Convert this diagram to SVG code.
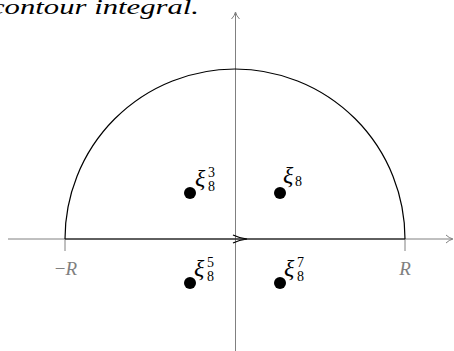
<svg xmlns="http://www.w3.org/2000/svg" width="454" height="351" viewBox="0 0 454 351">
<defs>
<style>
.axis{stroke:#808080;stroke-width:1;fill:none}
.contour{stroke:#000;stroke-width:1.2;fill:none}
.gl{fill:#808080;font-style:italic;font-size:19px}
.xi{font-style:italic;font-size:24px;fill:#000}
.idx{font-style:normal;font-size:14px}
.cap{font-style:italic;font-size:21px;fill:#000}
</style>
</defs>
<rect width="454" height="351" fill="#fff"/>
<text class="cap" font-family="Liberation Serif, serif" x="-9" y="14" textLength="208" lengthAdjust="spacingAndGlyphs">contour integral.</text>
<g id="connectors">
<line class="axis" x1="8" y1="239" x2="452" y2="239"/>
<path class="axis" d="M446,235 Q449,238 453,239 Q449,240 446,243"/>
<line class="axis" x1="235.5" y1="13" x2="235.5" y2="351"/>
<path class="axis" d="M231.5,19 Q234.5,16 235.5,12 Q236.5,16 239.5,19"/>
<line class="axis" x1="65" y1="239" x2="65" y2="251"/>
<line class="axis" x1="405" y1="239" x2="405" y2="251"/>
<path class="contour" d="M65,239 A170,170 0 0 1 405,239"/>
<line class="contour" x1="65" y1="239" x2="405" y2="239"/>
<path d="M233,235 Q239,238 247,239 Q239,240 233,243" stroke="#000" stroke-width="1.2" fill="none"/>
</g>
<g id="minusR"><text class="gl" font-family="Liberation Serif, serif" x="66" y="275" text-anchor="middle"><tspan font-style="normal">−</tspan>R</text></g>
<g id="R"><text class="gl" font-family="Liberation Serif, serif" x="405" y="275" text-anchor="middle">R</text></g>
<g id="xi3">
<circle cx="190" cy="193" r="6" fill="#000"/>
<text class="xi" font-family="Liberation Serif, serif" x="195" y="186">ξ<tspan class="idx" x="208" y="191">8</tspan><tspan class="idx" x="208" y="177">3</tspan></text>
</g>
<g id="xi1">
<circle cx="280" cy="193" r="6" fill="#000"/>
<text class="xi" font-family="Liberation Serif, serif" x="283" y="183">ξ<tspan class="idx" x="295" y="186">8</tspan></text>
</g>
<g id="xi5">
<circle cx="190" cy="283" r="6" fill="#000"/>
<text class="xi" font-family="Liberation Serif, serif" x="194" y="276">ξ<tspan class="idx" x="207" y="281">8</tspan><tspan class="idx" x="207" y="267">5</tspan></text>
</g>
<g id="xi7">
<circle cx="280" cy="283" r="6" fill="#000"/>
<text class="xi" font-family="Liberation Serif, serif" x="284" y="276">ξ<tspan class="idx" x="297" y="281">8</tspan><tspan class="idx" x="297" y="267">7</tspan></text>
</g>
</svg>
